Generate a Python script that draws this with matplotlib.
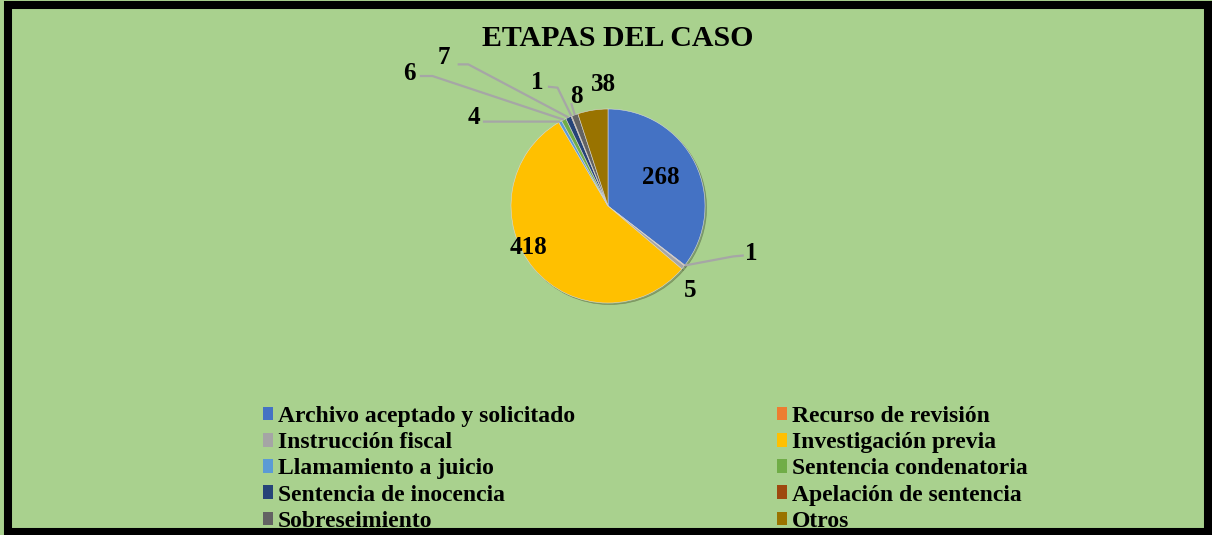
import numpy as np
import matplotlib.pyplot as plt
from matplotlib.patches import Rectangle, Patch

categorias = ['Archivo aceptado y solicitado', 'Recurso de revisión', 'Instrucción fiscal',
              'Investigación previa', 'Llamamiento a juicio', 'Sentencia condenatoria',
              'Sentencia de inocencia', 'Apelación de sentencia', 'Sobreseimiento', 'Otros']
valores = [268, 1, 5, 418, 4, 6, 7, 1, 8, 38]
colores = ['#4472C4', '#ED7D31', '#A5A5A5', '#FFC000', '#5B9BD5', '#70AD47',
           '#264478', '#9E480E', '#636363', '#997300']

# label placement (pie radius units) and leader line starts
pos_etiquetas = [(0.54, 0.29), (1.48, -0.49), (0.85, -0.87), (-0.82, -0.43), (-1.38, 0.91),
                 (-2.05, 1.37), (-1.69, 1.53), (-0.73, 1.27), (-0.33, 1.13), (-0.05, 1.25)]
guias = {1: [(1.40, -0.51), (1.29, -0.52)],
         4: [(-1.29, 0.87), (-1.17, 0.87)],
         5: [(-1.94, 1.34), (-1.81, 1.34)],
         6: [(-1.55, 1.46), (-1.44, 1.46)],
         7: [(-0.62, 1.23), (-0.52, 1.22)],
         8: [(-0.38, 1.06)]}

W, H, dpi = 1212, 535, 100
fig = plt.figure(figsize=(W / dpi, H / dpi), dpi=dpi)
fig.patch.set_facecolor('#A9D18E')

serif = 'Liberation Serif'

# pie axes placed so the centre sits at (608, 206) px with radius 97 px
cx, cy, r = 608, 206, 97
aw, ah = 700, 400
ax = fig.add_axes([(cx - aw / 2) / W, (H - cy - ah / 2) / H, aw / W, ah / H])
ax.set_facecolor('none')
wedges, _ = ax.pie(valores, colors=colores, startangle=90, counterclock=False,
                   wedgeprops=dict(linewidth=0.4, edgecolor='#d9d9d9'),
                   shadow={'ox': 0.012, 'oy': -0.012, 'shade': 0.9, 'alpha': 0.25})
ax.set_xlim(-aw / 2 / r, aw / 2 / r)
ax.set_ylim(-ah / 2 / r, ah / 2 / r)

for i, (v, w) in enumerate(zip(valores, wedges)):
    if i in guias:
        ang = np.deg2rad((w.theta1 + w.theta2) / 2)
        pts = guias[i] + [(np.cos(ang), np.sin(ang))]
        xs, ys = zip(*pts)
        ax.plot(xs, ys, color='#A6A6A6', lw=1.6, solid_capstyle='butt', zorder=1)
    x, y = pos_etiquetas[i]
    ax.text(x, y, str(v), ha='center', va='center', fontsize=18, fontweight='bold',
            family=serif, color='black')

fig.text(618 / W, 1 - 39 / H, 'ETAPAS DEL CASO', ha='center', va='center',
         fontsize=21.5, fontweight='bold', family=serif)

handles = [Patch(facecolor=c, edgecolor='none') for c in colores]
for col, x0 in enumerate([263, 777]):
    idx = list(range(col, len(categorias), 2))
    leg = fig.legend([handles[i] for i in idx], [categorias[i] for i in idx],
                     loc='upper left', bbox_to_anchor=(x0 / W, 1 - 406 / H),
                     frameon=False, borderpad=0, borderaxespad=0,
                     handlelength=0.43, handleheight=0.5, handletextpad=0.2,
                     labelspacing=0.22,
                     prop=dict(family=serif, weight='bold', size=17))

# black frame around the chart
fig.patches.append(Rectangle((8 / W, 3 / H), 1 - 12 / W, 1 - 8 / H, transform=fig.transFigure,
                             fill=False, edgecolor='black', linewidth=5.8))

fig.savefig('out.png', dpi=dpi, facecolor=fig.get_facecolor())
